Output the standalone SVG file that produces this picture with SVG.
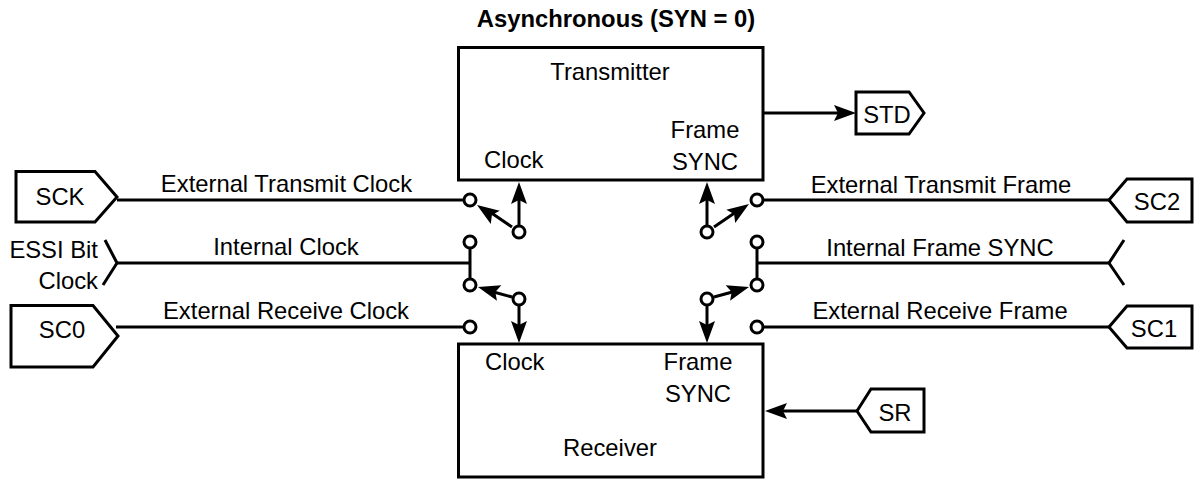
<svg xmlns="http://www.w3.org/2000/svg" width="1196" height="480" viewBox="0 0 1196 480">
<style>
text{font-family:"Liberation Sans",Arial,sans-serif;font-size:23.800px;fill:#000}
.m{text-anchor:middle}
.e{text-anchor:end}
.b{font-weight:bold}
.s{fill:#fff;stroke:#000;stroke-width:3}
.l{fill:none;stroke:#000;stroke-width:3}
.c{fill:#fff;stroke:#000;stroke-width:3}
.h{fill:#000;stroke:none}
</style>
<defs>
<path id="ah" class="h" d="M0 0L-22-8-18 0-22 8Z"/>
</defs>
<rect width="1196" height="480" fill="#fff"/>
<text class="b m" x="616" y="27">Asynchronous (SYN = 0)</text>
<g id="transmitter">
<rect class="s" x="458.500" y="47.500" width="304.500" height="132.500"/>
<text class="m" x="610" y="80">Transmitter</text>
<text x="484" y="168">Clock</text>
<text class="m" x="705" y="138">Frame</text>
<text class="m" x="705" y="170">SYNC</text>
</g>
<g id="receiver">
<rect class="s" x="458.500" y="344" width="304.500" height="133"/>
<text x="485" y="370">Clock</text>
<text class="m" x="698" y="370">Frame</text>
<text class="m" x="698" y="402">SYNC</text>
<text class="m" x="610" y="456">Receiver</text>
</g>
<g id="connectors">
<path class="l" d="M117 200H463M117 263H470M470 249V278M116 327H463"/>
<path class="l" d="M1109 200H764M1109 263H757M757 249V278M1109 327H764"/>
<path class="l" d="M105 240L117 263 103 285"/>
<path class="l" d="M1124 240L1109 263 1124 285"/>
<path class="l" d="M519 225V195M512 227L490 212M512 297L490 291M519 306V335"/>
<path class="l" d="M707 225V195M714 227L736 212M714 297L736 291M707 306V335"/>
<path class="l" d="M763 113H838M857 411H782"/>
<use href="#ah" transform="translate(519 182) rotate(-90)"/>
<use href="#ah" transform="translate(707 182) rotate(-90)"/>
<use href="#ah" transform="translate(519 343) rotate(90)"/>
<use href="#ah" transform="translate(707 343) rotate(90)"/>
<use href="#ah" transform="translate(477 205) rotate(-146)"/>
<use href="#ah" transform="translate(749 204) rotate(-34)"/>
<use href="#ah" transform="translate(478 287) rotate(-164)"/>
<use href="#ah" transform="translate(749 287) rotate(-16)"/>
<use href="#ah" transform="translate(856 113)"/>
<use href="#ah" transform="translate(765 411) rotate(180)"/>
<circle class="c" cx="470" cy="200" r="6"/>
<circle class="c" cx="519" cy="232" r="6"/>
<circle class="c" cx="470" cy="242" r="6"/>
<circle class="c" cx="470" cy="285" r="6"/>
<circle class="c" cx="519" cy="299" r="6"/>
<circle class="c" cx="470" cy="327" r="6"/>
<circle class="c" cx="757" cy="200" r="6"/>
<circle class="c" cx="707" cy="232" r="6"/>
<circle class="c" cx="757" cy="242" r="6"/>
<circle class="c" cx="757" cy="285" r="6"/>
<circle class="c" cx="707" cy="299" r="6"/>
<circle class="c" cx="757" cy="327" r="6"/>
<text class="m" x="286.500" y="192">External Transmit Clock</text>
<text class="m" x="286" y="255">Internal Clock</text>
<text class="m" x="286" y="319">External Receive Clock</text>
<text class="m" x="941" y="193">External Transmit Frame</text>
<text class="m" x="940" y="256">Internal Frame SYNC</text>
<text class="m" x="940" y="319">External Receive Frame</text>
</g>
<g id="sck"><path class="s" d="M16 171.500H95L117 197 95 222H16Z"/><text class="m" x="60" y="205">SCK</text></g>
<g id="essi"><text class="e" x="98" y="258">ESSI Bit</text><text class="e" x="98" y="289">Clock</text></g>
<g id="sc0"><path class="s" d="M11 305.500H93L118 336 93 367H11Z"/><text class="m" x="62" y="338">SC0</text></g>
<g id="std"><path class="s" d="M856 92H909L924 113 909 134H856Z"/><text class="m" x="887" y="123">STD</text></g>
<g id="sc2"><path class="s" d="M1109 200L1127 179H1192V222H1127Z"/><text class="m" x="1157" y="210">SC2</text></g>
<g id="sc1"><path class="s" d="M1109 327L1127 306H1192V348H1127Z"/><text class="m" x="1154" y="337">SC1</text></g>
<g id="sr"><path class="s" d="M857 411L871 389H924V432H871Z"/><text class="m" x="895" y="421">SR</text></g>
</svg>
